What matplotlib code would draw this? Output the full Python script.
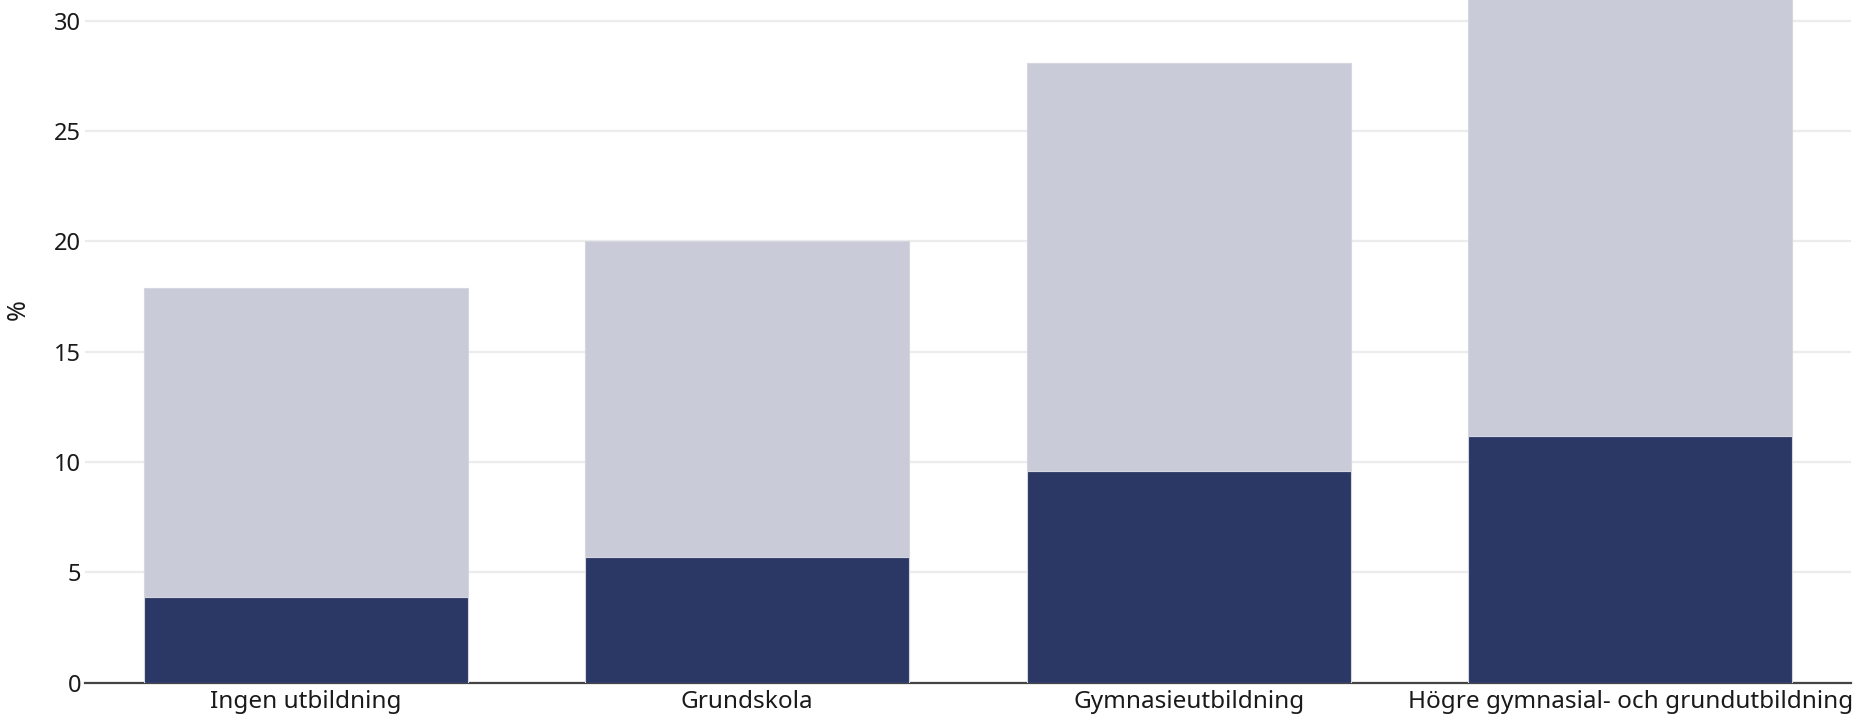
import matplotlib.pyplot as plt

plt.rcParams['font.family'] = ['Noto Sans', 'DejaVu Sans']

# utbildningsnivå och andel (%)
categories = ['Ingen utbildning', 'Grundskola', 'Gymnasieutbildning',
              'Högre gymnasial- och grundutbildning']
lower_values = [3.9, 5.7, 9.6, 11.2]     # mörk del
total_values = [17.9, 20.0, 28.1, 33.0]  # hela stapeln
y_ticks = [0, 5, 10, 15, 20, 25, 30]

dark_color = '#2b3764'
light_color = '#c9cbd8'

fig = plt.figure(figsize=(18.57, 7.19), dpi=100)
ax = fig.add_axes([0.0458, 0.0506, 0.951, 0.9494])

x = range(len(categories))
upper_values = [t - l for t, l in zip(total_values, lower_values)]

ax.bar(x, lower_values, width=0.733, color=dark_color,
       edgecolor='#d4d6e0', linewidth=0.8, zorder=3)
ax.bar(x, upper_values, bottom=lower_values, width=0.733, color=light_color,
       edgecolor='#d4d6e0', linewidth=0.8, zorder=3)

ax.set_xlim(-0.5, 3.5)
ax.set_ylim(0, 30.94)
ax.set_yticks(y_ticks)
ax.set_xticks(list(x))
ax.set_xticklabels(categories, fontsize=17.5, color='#1a1a1a')
ax.tick_params(axis='y', length=0, pad=3, labelsize=17, labelcolor='#1a1a1a')
ax.tick_params(axis='x', length=0, pad=5)

ax.set_ylabel('%', fontsize=18, color='#1a1a1a')
ax.yaxis.set_label_coords(-0.031, 0.546)

ax.grid(axis='y', color='#ececec', linewidth=1.6, zorder=0)
ax.set_axisbelow(True)
for side in ['top', 'right', 'left']:
    ax.spines[side].set_visible(False)
ax.spines['bottom'].set_color('#444444')
ax.spines['bottom'].set_linewidth(1.6)
ax.spines['bottom'].set_zorder(2)

fig.savefig('out.png', dpi=100)
